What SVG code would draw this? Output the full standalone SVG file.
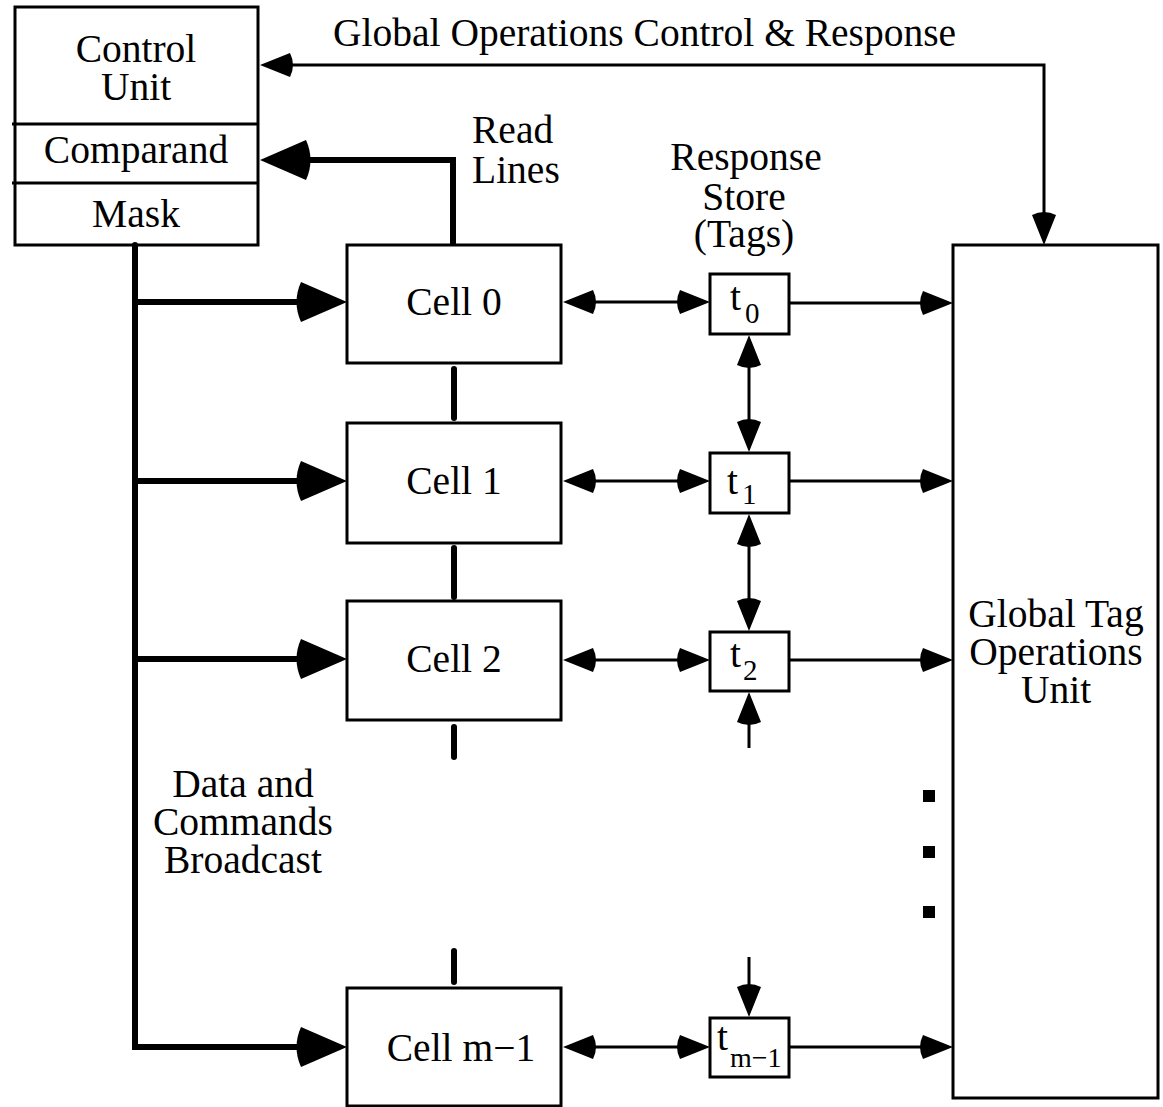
<svg xmlns="http://www.w3.org/2000/svg" xmlns:xlink="http://www.w3.org/1999/xlink" width="1163" height="1107" viewBox="0 0 1163 1107">
  <style>
    .box { fill: #fff; stroke: #000; stroke-width: 3; }
    .thin { fill: none; stroke: #000; stroke-width: 3; }
    .thick { fill: none; stroke: #000; stroke-width: 6; stroke-linecap: round; stroke-linejoin: miter; }
    text { font-family: "Liberation Serif", "Times New Roman", serif; font-size: 39.5px; fill: #000; }
    .c { text-anchor: middle; }
    .sub { font-size: 29px; }
    .subs { font-size: 28px; }
  </style>
  <defs>
    <!-- arrowheads pointing right, tip at the origin -->
    <path id="ah" d="M0,0 L-30,-12 Q-36,0 -30,12 Z" fill="#000"/>
    <path id="AH" d="M0,0 L-46,-20 Q-55,0 -46,20 Z" fill="#000"/>
  </defs>

  <rect width="1163" height="1107" fill="#fff"/>

  <!-- Control unit with comparand and mask registers -->
  <g id="control-unit">
    <rect class="box" x="15" y="7" width="243" height="238"/>
    <line class="thin" x1="12" y1="124" x2="258" y2="124"/>
    <line class="thin" x1="12" y1="183" x2="258" y2="183"/>
    <text class="c" x="136" y="62">Control</text>
    <text class="c" x="136" y="100">Unit</text>
    <text class="c" x="136" y="163">Comparand</text>
    <text class="c" x="136" y="227">Mask</text>
  </g>

  <!-- Memory cells -->
  <g id="cell-0">
    <rect class="box" x="347" y="245" width="214" height="118"/>
    <text class="c" x="454" y="315">Cell 0</text>
  </g>
  <g id="cell-1">
    <rect class="box" x="347" y="423" width="214" height="120"/>
    <text class="c" x="454" y="494">Cell 1</text>
  </g>
  <g id="cell-2">
    <rect class="box" x="347" y="601" width="214" height="119"/>
    <text class="c" x="454" y="672">Cell 2</text>
  </g>
  <g id="cell-m-1">
    <rect class="box" x="347" y="988" width="214" height="118"/>
    <text class="c" x="461" y="1061">Cell m−1</text>
  </g>

  <!-- Response store tags -->
  <g id="tag-0">
    <rect class="box" x="710" y="274" width="79" height="60"/>
    <text x="730" y="310">t</text><text class="sub" x="745" y="323">0</text>
  </g>
  <g id="tag-1">
    <rect class="box" x="710" y="453" width="79" height="60"/>
    <text x="727" y="494">t</text><text class="sub" x="742" y="504">1</text>
  </g>
  <g id="tag-2">
    <rect class="box" x="710" y="632" width="79" height="59"/>
    <text x="730" y="667">t</text><text class="sub" x="743" y="680">2</text>
  </g>
  <g id="tag-m-1">
    <rect class="box" x="710" y="1018" width="79" height="59"/>
    <text x="717" y="1050">t</text><text class="subs" x="730" y="1067">m−1</text>
  </g>

  <!-- Global tag operations unit -->
  <g id="global-tag-unit">
    <rect class="box" x="953" y="245" width="205" height="853"/>
    <text class="c" x="1056" y="627">Global Tag</text>
    <text class="c" x="1056" y="665">Operations</text>
    <text class="c" x="1056" y="703">Unit</text>
  </g>

  <!-- Labels -->
  <g id="labels">
    <text x="333" y="46">Global Operations Control &amp; Response</text>
    <text x="472" y="143">Read</text>
    <text x="472" y="183">Lines</text>
    <text class="c" x="746" y="170">Response</text>
    <text class="c" x="744" y="210">Store</text>
    <text class="c" x="744" y="247">(Tags)</text>
    <text class="c" x="243" y="797">Data and</text>
    <text class="c" x="243" y="835">Commands</text>
    <text class="c" x="243" y="873">Broadcast</text>
  </g>

  <!-- Connectors -->
  <g id="connectors">
    <!-- global operations control and response -->
    <polyline class="thin" points="280,65 1044,65 1044,225"/>
    <use xlink:href="#ah" transform="translate(260,65) rotate(180)"/>
    <use xlink:href="#ah" transform="translate(1044,245) rotate(90)"/>

    <!-- read lines back to the comparand -->
    <path class="thick" d="M453,243 V160 H290"/>
    <use xlink:href="#AH" transform="translate(260,160) rotate(180)"/>

    <!-- read line stubs between cells -->
    <line class="thick" x1="454" y1="369" x2="454" y2="418"/>
    <line class="thick" x1="454" y1="548" x2="454" y2="597"/>
    <line class="thick" x1="454" y1="727" x2="454" y2="757"/>
    <line class="thick" x1="454" y1="951" x2="454" y2="982"/>

    <!-- data and commands broadcast bus -->
    <path class="thick" d="M135,245 V1047 H315" stroke-linecap="butt"/>
    <line class="thick" x1="135" y1="302" x2="315" y2="302" stroke-linecap="butt"/>
    <line class="thick" x1="135" y1="481" x2="315" y2="481" stroke-linecap="butt"/>
    <line class="thick" x1="135" y1="659" x2="315" y2="659" stroke-linecap="butt"/>
    <use xlink:href="#AH" transform="translate(347,302)"/>
    <use xlink:href="#AH" transform="translate(347,481)"/>
    <use xlink:href="#AH" transform="translate(347,659)"/>
    <use xlink:href="#AH" transform="translate(347,1047)"/>

    <!-- cell to tag links -->
    <line class="thin" x1="580" y1="302" x2="690" y2="302"/>
    <use xlink:href="#ah" transform="translate(563,302) rotate(180)"/>
    <use xlink:href="#ah" transform="translate(710,302)"/>
    <line class="thin" x1="580" y1="481" x2="690" y2="481"/>
    <use xlink:href="#ah" transform="translate(563,481) rotate(180)"/>
    <use xlink:href="#ah" transform="translate(710,481)"/>
    <line class="thin" x1="580" y1="660" x2="690" y2="660"/>
    <use xlink:href="#ah" transform="translate(563,660) rotate(180)"/>
    <use xlink:href="#ah" transform="translate(710,660)"/>
    <line class="thin" x1="580" y1="1047" x2="690" y2="1047"/>
    <use xlink:href="#ah" transform="translate(563,1047) rotate(180)"/>
    <use xlink:href="#ah" transform="translate(710,1047)"/>

    <!-- tag chain -->
    <line class="thin" x1="749" y1="350" x2="749" y2="437"/>
    <use xlink:href="#ah" transform="translate(749,335) rotate(-90)"/>
    <use xlink:href="#ah" transform="translate(749,452) rotate(90)"/>
    <line class="thin" x1="749" y1="529" x2="749" y2="616"/>
    <use xlink:href="#ah" transform="translate(749,514) rotate(-90)"/>
    <use xlink:href="#ah" transform="translate(749,631) rotate(90)"/>
    <line class="thin" x1="749" y1="748" x2="749" y2="707"/>
    <use xlink:href="#ah" transform="translate(749,692) rotate(-90)"/>
    <line class="thin" x1="749" y1="957" x2="749" y2="1000"/>
    <use xlink:href="#ah" transform="translate(749,1017) rotate(90)"/>

    <!-- tags to global tag operations unit -->
    <line class="thin" x1="789" y1="303" x2="935" y2="303"/>
    <use xlink:href="#ah" transform="translate(953,303)"/>
    <line class="thin" x1="789" y1="481" x2="935" y2="481"/>
    <use xlink:href="#ah" transform="translate(953,481)"/>
    <line class="thin" x1="789" y1="660" x2="935" y2="660"/>
    <use xlink:href="#ah" transform="translate(953,660)"/>
    <line class="thin" x1="789" y1="1047" x2="935" y2="1047"/>
    <use xlink:href="#ah" transform="translate(953,1047)"/>
  </g>

  <!-- continuation dots -->
  <g id="ellipsis">
    <rect x="923" y="790" width="12" height="12"/>
    <rect x="923" y="846" width="12" height="12"/>
    <rect x="923" y="906" width="12" height="12"/>
  </g>
</svg>
